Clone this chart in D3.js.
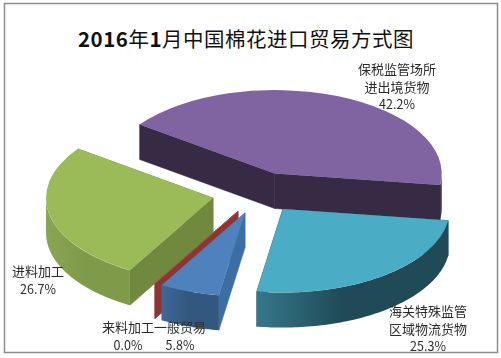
<!DOCTYPE html>
<html lang="en">
<head>
    <meta charset="UTF-8">
    <title>2016年1月中国棉花进口贸易方式图</title>
    <script src="https://d3js.org/d3.v7.min.js"></script>
    <style>
        body { margin: 0; padding: 0; background: #fff; }
        svg { display: block; filter: blur(0.35px); }
        text { font-family: "Noto Sans CJK SC", sans-serif; fill: #2b2b2b; text-anchor: middle; }
    </style>
</head>
<body>
    <svg width="501" height="358"></svg>

    <script>
        const categories = ["保税监管场所\n进出境货物", "海关特殊监管\n区域物流货物", "一般贸易", "来料加工", "进料加工"];
        const values = [42.2, 25.3, 5.8, 0.0, 26.7];
        const topColors = ["#8064a2", "#4bacc6", "#4f81bd", "#c0504d", "#9bbb59"];
        const faceColors = ["#372a45", "#205867", "#3c6ea6", "#8e3533", "#71893f"];
        const wallDark = ["#372a45", "#1f4a56", "#33587f", "#953735", "#7f9b4a"];
        const wallLight = ["#372a45", "#35788a", "#3f6897", "#953735", "#8aa653"];

        // layout
        const center = [259, 193], rx = 167, tilt = 0.5, depth = 35;
        const startDeg = -54;
        const explode = [42, 40, 42, 42, 47];
        const labelPos = [[397, 74], [428, 316], [180, 332], [128, 332], [38, 276]];
        const drawOrder = [0, 4, 3, 2, 1];

        const svg = d3.select("svg");

        svg.append("rect")
            .attr("x", 4.5).attr("y", 3.5)
            .attr("width", 493).attr("height", 349)
            .attr("fill", "#fff")
            .attr("stroke", "#8c8c8c")
            .attr("stroke-width", 1.5);

        const title = svg.append("text").attr("x", 246).attr("y", 47).attr("font-size", 20.5).attr("letter-spacing", 0.5);
        [["2016", 700], ["年", 400], ["1", 700], ["月中国棉花进口贸易方式图", 400]].forEach(d => {
            title.append("tspan").attr("font-weight", d[1]).attr("fill", "#111").text(d[0]);
        });

        const pie = d3.pie().sort(null)
            .startAngle(startDeg * Math.PI / 180)
            .endAngle((startDeg + 360) * Math.PI / 180);
        const arcs = pie(values);
        const arcPath = d3.arc().innerRadius(0).outerRadius(rx);
        const defs = svg.append("defs");

        // point on the flattened rim, angle clockwise from north
        const rim = (a, o) => [o[0] + rx * Math.sin(a), o[1] - rx * tilt * Math.cos(a)];

        drawOrder.forEach(i => {
            const d = arcs[i];
            const mid = (d.startAngle + d.endAngle) / 2;
            const o = [
                center[0] + explode[i] * Math.sin(mid),
                center[1] - explode[i] * tilt * Math.cos(mid)
            ];
            const g = svg.append("g");

            // the two cut faces
            [d.startAngle, d.endAngle].forEach(a => {
                const p = rim(a, o);
                g.append("path")
                    .attr("d", d3.line()([o, p, [p[0], p[1] + depth], [o[0], o[1] + depth]]) + "Z")
                    .attr("fill", faceColors[i])
                    .attr("stroke", faceColors[i])
                    .attr("stroke-width", 0.5);
            });

            // outer wall, only the part that faces the viewer
            const a0 = Math.max(d.startAngle, Math.PI / 2);
            const a1 = Math.min(d.endAngle, Math.PI * 1.5);
            if (a1 > a0) {
                const angles = d3.range(a0, a1, 0.02).concat([a1]);
                const edge = angles.map(a => rim(a, o));
                const lower = edge.map(p => [p[0], p[1] + depth]).reverse();
                const gradId = "wall" + i;
                const grad = defs.append("linearGradient")
                    .attr("id", gradId)
                    .attr("gradientUnits", "userSpaceOnUse")
                    .attr("x1", d3.min(edge, p => p[0])).attr("x2", d3.max(edge, p => p[0]))
                    .attr("y1", 0).attr("y2", 0);
                grad.append("stop").attr("offset", "0%").attr("stop-color", wallLight[i]);
                grad.append("stop").attr("offset", "45%").attr("stop-color", wallDark[i]);
                grad.append("stop").attr("offset", "100%").attr("stop-color", wallDark[i]);
                g.append("path")
                    .attr("d", d3.line()(edge.concat(lower)) + "Z")
                    .attr("fill", `url(#${gradId})`);
            }

            // top surface
            if (d.endAngle > d.startAngle) {
                g.append("path")
                    .attr("transform", `translate(${o[0]},${o[1]}) scale(1,${tilt})`)
                    .attr("d", arcPath(d))
                    .attr("fill", topColors[i]);
            } else {
                const p = rim(d.startAngle, o);
                g.append("path")
                    .attr("d", d3.line()([o, p]))
                    .attr("stroke", topColors[i])
                    .attr("stroke-width", 0.8);
            }
        });

        // data labels
        categories.forEach((c, i) => {
            const lines = c.split("\n");
            const t = svg.append("text").attr("x", labelPos[i][0]).attr("y", labelPos[i][1]);
            lines.forEach((line, k) => {
                t.append("tspan")
                    .attr("x", labelPos[i][0])
                    .attr("dy", k === 0 ? 0 : 17.5)
                    .attr("font-size", 13)
                    .text(line);
            });
            t.append("tspan")
                .attr("x", labelPos[i][0])
                .attr("dy", 17.5)
                .attr("font-size", 12.5)
                .text(d3.format(".1f")(values[i]) + "%");
        });
    </script>
</body>
</html>
